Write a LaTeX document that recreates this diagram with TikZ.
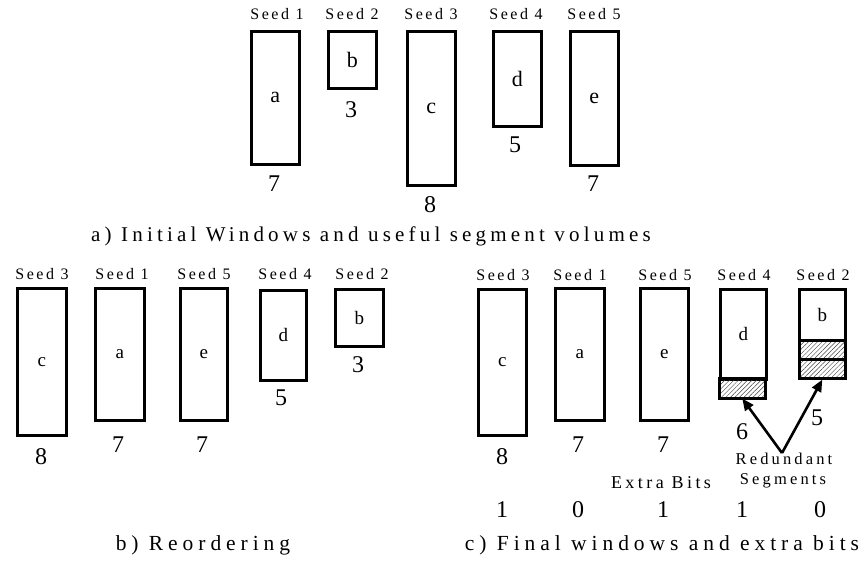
\documentclass[tikz,border=0pt]{standalone}
\usepackage{fontspec}
\setmainfont{Liberation Serif}
\newfontfamily\seedfont{Liberation Serif}[LetterSpace=16]
\newfontfamily\capafont{Liberation Serif}[LetterSpace=20]
\newfontfamily\capbfont{Liberation Serif}[LetterSpace=23]
\newfontfamily\notefont{Liberation Serif}[LetterSpace=19]
\usetikzlibrary{arrows.meta,patterns.meta}

\begin{document}
\begin{tikzpicture}[x=1pt,y=-1pt,
  win/.style={draw,line width=2.6pt,inner sep=0pt,anchor=north west,
              minimum width=48pt,font=\fontsize{19}{22}\selectfont},
  wintop/.style={win,font=\fontsize{22}{26}\selectfont},
  hatch/.style={win,pattern={Lines[angle=45,distance=3.2pt,line width=0.45pt]},
                pattern color=black!75},
  seedlbl/.style={inner sep=0pt,font=\seedfont\fontsize{16}{19}\selectfont},
  num/.style={inner sep=0pt,font=\fontsize{24}{28}\selectfont},
  caption/.style={inner sep=0pt,font=\fontsize{21.5}{26}\selectfont},
  note/.style={inner sep=0pt,font=\notefont\fontsize{16.5}{19}\selectfont},
  redarrow/.style={line width=2.6pt,-{Triangle[length=12pt,width=10pt]}}]

\useasboundingbox (0,0) rectangle (867,562);

% ---- a) initial windows ----
\node[wintop,minimum height=133pt] (A1) at (250,30) {a};
\node[wintop,minimum height=57pt]  (A2) at (327,30) {b};
\node[wintop,minimum height=154pt] (A3) at (406,30) {c};
\node[wintop,minimum height=95pt]  (A4) at (492,30) {d};
\node[wintop,minimum height=134pt] (A5) at (569,30) {e};

\node[seedlbl] (sA1) at (277,14) {Seed 1};
\node[seedlbl] (sA2) at (352,14) {Seed 2};
\node[seedlbl] (sA3) at (431,14) {Seed 3};
\node[seedlbl] (sA4) at (516,14) {Seed 4};
\node[seedlbl] (sA5) at (594,14) {Seed 5};

\node[num] (nA1) at (274,184) {7};
\node[num] (nA2) at (351,110) {3};
\node[num] (nA3) at (430,205) {8};
\node[num] (nA4) at (515,145) {5};
\node[num] (nA5) at (593,184) {7};

\node[caption,font=\capafont\fontsize{21}{26}\selectfont] (capA) at (371,236)
  {a) Initial W\kern3pt indows and useful segment volumes};

% ---- b) reordering ----
\node[win,minimum height=147pt,minimum width=49pt] (B1) at (16,287) {c};
\node[win,minimum height=132pt,minimum width=49pt] (B2) at (94,287) {a};
\node[win,minimum height=132pt,minimum width=47pt] (B3) at (179,287) {e};
\node[win,minimum height=90pt,minimum width=46pt]  (B4) at (259,289) {d};
\node[win,minimum height=57pt]                     (B5) at (334,288) {b};

\node[seedlbl] (sB1) at (42,274)  {Seed 3};
\node[seedlbl] (sB2) at (122,274) {Seed 1};
\node[seedlbl] (sB3) at (204,274) {Seed 5};
\node[seedlbl] (sB4) at (285,274) {Seed 4};
\node[seedlbl] (sB5) at (362,274) {Seed 2};

\node[num] (nB1) at (41,457)  {8};
\node[num] (nB2) at (118,445) {7};
\node[num] (nB3) at (202,445) {7};
\node[num] (nB4) at (281,398) {5};
\node[num] (nB5) at (358,365) {3};

\node[caption,font=\capbfont\fontsize{21.5}{26}\selectfont] (capB) at (203,545)
  {b) Reordering};

% ---- c) final windows and extra bits ----
\node[win,minimum height=146pt]                    (C1) at (477,288) {c};
\node[win,minimum height=132pt,minimum width=49pt] (C2) at (554,287) {a};
\node[win,minimum height=132pt]                    (C3) at (639,287) {e};
\node[win,minimum height=90pt,minimum width=46pt]  (C4) at (719,288) {d};
\node[hatch,minimum height=20pt,minimum width=46pt] (C4h) at (719,378) {};
\node[win,minimum height=51pt,minimum width=46pt]  (C5) at (798,288) {b};
\node[hatch,minimum height=19pt,minimum width=46pt] (C5h1) at (798,339) {};
\node[hatch,minimum height=19pt,minimum width=46pt] (C5h2) at (798,358) {};

\node[seedlbl] (sC1) at (503,275) {Seed 3};
\node[seedlbl] (sC2) at (580,275) {Seed 1};
\node[seedlbl] (sC3) at (665,275) {Seed 5};
\node[seedlbl] (sC4) at (744,275) {Seed 4};
\node[seedlbl] (sC5) at (823,275) {Seed 2};

\node[num] (nC1) at (502,457) {8};
\node[num] (nC2) at (578,445) {7};
\node[num] (nC3) at (663,445) {7};
\node[num] (nC4) at (742,432) {6};
\node[num] (nC5) at (817,418) {5};

\coordinate (rs) at (782,453);
\draw[redarrow] (rs) -- (C4h.south);
\draw[redarrow] (rs) -- (C5h2.south);

\node[note] (red1) at (784,459) {Redundant};
\node[note] (red2) at (783,481) {Segments};
\node[note,font=\notefont\fontsize{18}{22}\selectfont] (xbits) at (661,483) {Extra Bits};

\node[num] (bC1) at (502,510) {1};
\node[num] (bC2) at (578,510) {0};
\node[num] (bC3) at (663,510) {1};
\node[num] (bC4) at (742,510) {1};
\node[num] (bC5) at (820,510) {0};

\node[caption,font=\capbfont\fontsize{21.5}{26}\selectfont] (capC) at (662,545)
  {c) Final windows and extra bits};
\end{tikzpicture}
\end{document}
